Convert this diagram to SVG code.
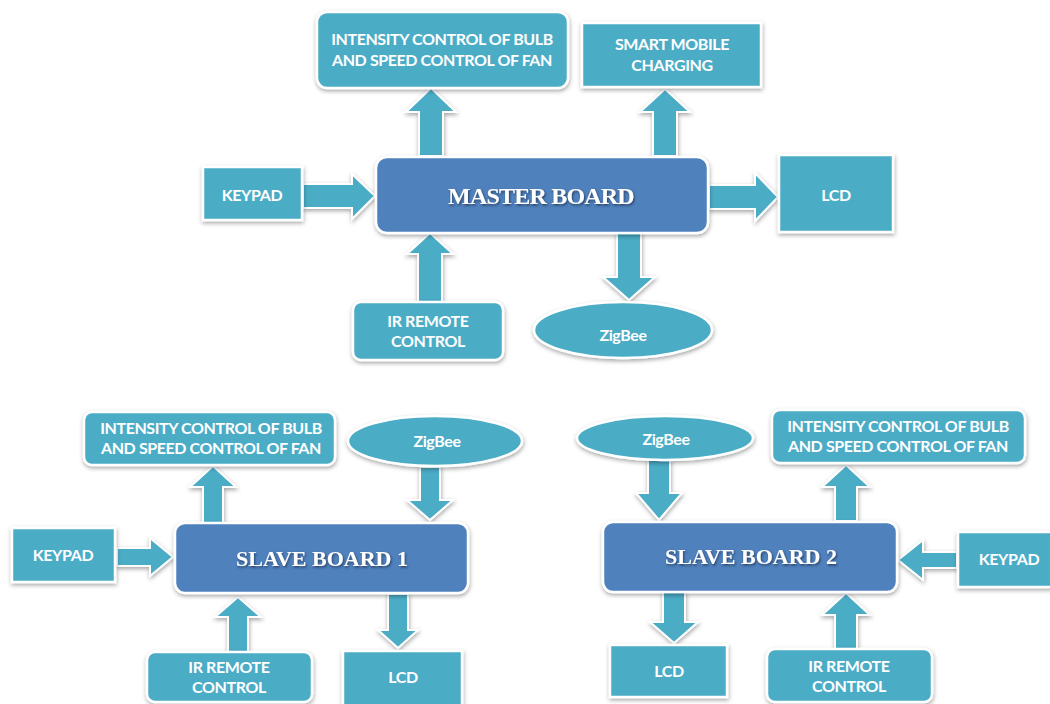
<svg xmlns="http://www.w3.org/2000/svg" width="1050" height="704" viewBox="0 0 1050 704">
  <defs>
    <filter id="shade" x="-10%" y="-20%" width="120%" height="150%">
      <feDropShadow dx="0.5" dy="2" stdDeviation="2" flood-color="#000" flood-opacity="0.35"/>
    </filter>
    <filter id="tshade" x="-5%" y="-20%" width="110%" height="150%">
      <feDropShadow dx="1" dy="1.5" stdDeviation="0.8" flood-color="#1a2a40" flood-opacity="0.75"/>
    </filter>
    <style>
      .box { fill: #4BACC6; stroke: #ffffff; stroke-width: 2.5; filter: url(#shade); }
      .board { fill: #4F81BD; stroke: #ffffff; stroke-width: 2.5; filter: url(#shade); }
      .arrow { fill: #4BACC6; stroke: #ffffff; stroke-width: 2; stroke-linejoin: miter; filter: url(#shade); }
      .lbl { font-family: Lato, "Open Sans", "Liberation Sans", sans-serif; font-weight: bold; font-size: 16px; letter-spacing: -0.4px; fill: #ffffff; text-anchor: middle; }
      .title { font-family: "Liberation Serif", "Times New Roman", serif; font-weight: bold; fill: #ffffff; text-anchor: middle; filter: url(#tshade); }
    </style>
  </defs>
  <rect width="1050" height="704" fill="#ffffff"/>

  <!-- block arrows -->
  <g id="connectors">
    <!-- master board -->
    <polygon class="arrow" points="419,156 419,112 406,112 431,88 456,112 443,112 443,156"/>
    <polygon class="arrow" points="653,156 653,112 640,112 665,89 690,112 677,112 677,156"/>
    <polygon class="arrow" points="303,184 352,184 352,174 375,196 352,219 352,208 303,208"/>
    <polygon class="arrow" points="709,185 755,185 755,173 778,197 755,221 755,209 709,209"/>
    <polygon class="arrow" points="418,302 418,254 407,254 430,233 453,254 442,254 442,302"/>
    <polygon class="arrow" points="617,233 617,277 603,277 629,300 655,277 641,277 641,233"/>
    <!-- slave board 1 -->
    <polygon class="arrow" points="203,523 203,487 190,487 213,466 236,487 223,487 223,523"/>
    <polygon class="arrow" points="420,467 420,500 407,500 430,520 453,500 440,500 440,467"/>
    <polygon class="arrow" points="117,548 150,548 150,538 173,557 150,576 150,566 117,566"/>
    <polygon class="arrow" points="228,652 228,617 215,617 238,597 261,617 248,617 248,652"/>
    <polygon class="arrow" points="388,594 388,630 378,630 398,648 418,630 408,630 408,594"/>
    <!-- slave board 2 -->
    <polygon class="arrow" points="648,460 648,493 636,493 659,520 682,493 670,493 670,460"/>
    <polygon class="arrow" points="835,521 835,487 822,487 846,465 870,487 857,487 857,521"/>
    <polygon class="arrow" points="957,552 923,552 923,540 898,560 923,580 923,568 957,568"/>
    <polygon class="arrow" points="663,592 663,622 650,622 674,643 698,622 685,622 685,592"/>
    <polygon class="arrow" points="835,649 835,615 822,615 846,593 870,615 857,615 857,649"/>
  </g>

  <!-- master board cluster -->
  <g id="master-board">
    <rect class="board" x="376" y="157" width="332" height="76" rx="11"/>
    <text class="title" x="541" y="204" font-size="24" letter-spacing="-0.8">MASTER BOARD</text>
  </g>
  <g id="master-dimmer">
    <rect class="box" x="317" y="12" width="251" height="76" rx="10"/>
    <text class="lbl" x="442" y="45">INTENSITY CONTROL OF BULB</text>
    <text class="lbl" x="442" y="66">AND SPEED CONTROL OF FAN</text>
  </g>
  <g id="master-charging">
    <rect class="box" x="582" y="23" width="179" height="64"/>
    <text class="lbl" x="672" y="50">SMART MOBILE</text>
    <text class="lbl" x="672" y="71">CHARGING</text>
  </g>
  <g id="master-keypad">
    <rect class="box" x="203" y="167" width="99" height="53"/>
    <text class="lbl" x="252" y="201">KEYPAD</text>
  </g>
  <g id="master-lcd">
    <rect class="box" x="779" y="155" width="114" height="77"/>
    <text class="lbl" x="836" y="201">LCD</text>
  </g>
  <g id="master-ir">
    <rect class="box" x="353" y="302" width="150" height="58" rx="8"/>
    <text class="lbl" x="428" y="327">IR REMOTE</text>
    <text class="lbl" x="428" y="347">CONTROL</text>
  </g>
  <g id="master-zigbee">
    <ellipse class="box" cx="623" cy="330" rx="89" ry="28"/>
    <text class="lbl" x="623" y="341">ZigBee</text>
  </g>

  <!-- slave board 1 cluster -->
  <g id="slave1-board">
    <rect class="board" x="175" y="523" width="293" height="70" rx="10"/>
    <text class="title" x="322" y="566" font-size="22">SLAVE BOARD 1</text>
  </g>
  <g id="slave1-dimmer">
    <rect class="box" x="84" y="412" width="251" height="53" rx="8"/>
    <text class="lbl" x="211" y="434">INTENSITY CONTROL OF BULB</text>
    <text class="lbl" x="211" y="454">AND SPEED CONTROL OF FAN</text>
  </g>
  <g id="slave1-zigbee">
    <ellipse class="box" cx="435" cy="441" rx="87" ry="25"/>
    <text class="lbl" x="437" y="447">ZigBee</text>
  </g>
  <g id="slave1-keypad">
    <rect class="box" x="12" y="528" width="103" height="54"/>
    <text class="lbl" x="63" y="561">KEYPAD</text>
  </g>
  <g id="slave1-ir">
    <rect class="box" x="147" y="652" width="165" height="50" rx="8"/>
    <text class="lbl" x="229" y="673">IR REMOTE</text>
    <text class="lbl" x="229" y="693">CONTROL</text>
  </g>
  <g id="slave1-lcd">
    <rect class="box" x="343" y="651" width="119" height="55"/>
    <text class="lbl" x="403" y="683">LCD</text>
  </g>

  <!-- slave board 2 cluster -->
  <g id="slave2-board">
    <rect class="board" x="603" y="522" width="294" height="70" rx="10"/>
    <text class="title" x="751" y="564" font-size="22">SLAVE BOARD 2</text>
  </g>
  <g id="slave2-zigbee">
    <ellipse class="box" cx="665" cy="438" rx="88" ry="22"/>
    <text class="lbl" x="666" y="445">ZigBee</text>
  </g>
  <g id="slave2-dimmer">
    <rect class="box" x="772" y="410" width="253" height="53" rx="8"/>
    <text class="lbl" x="898" y="432">INTENSITY CONTROL OF BULB</text>
    <text class="lbl" x="898" y="452">AND SPEED CONTROL OF FAN</text>
  </g>
  <g id="slave2-keypad">
    <rect class="box" x="958" y="532" width="96" height="55"/>
    <text class="lbl" x="1009" y="565">KEYPAD</text>
  </g>
  <g id="slave2-lcd">
    <rect class="box" x="610" y="645" width="117" height="52"/>
    <text class="lbl" x="669" y="677">LCD</text>
  </g>
  <g id="slave2-ir">
    <rect class="box" x="767" y="649" width="165" height="53" rx="8"/>
    <text class="lbl" x="849" y="672">IR REMOTE</text>
    <text class="lbl" x="849" y="692">CONTROL</text>
  </g>
</svg>
